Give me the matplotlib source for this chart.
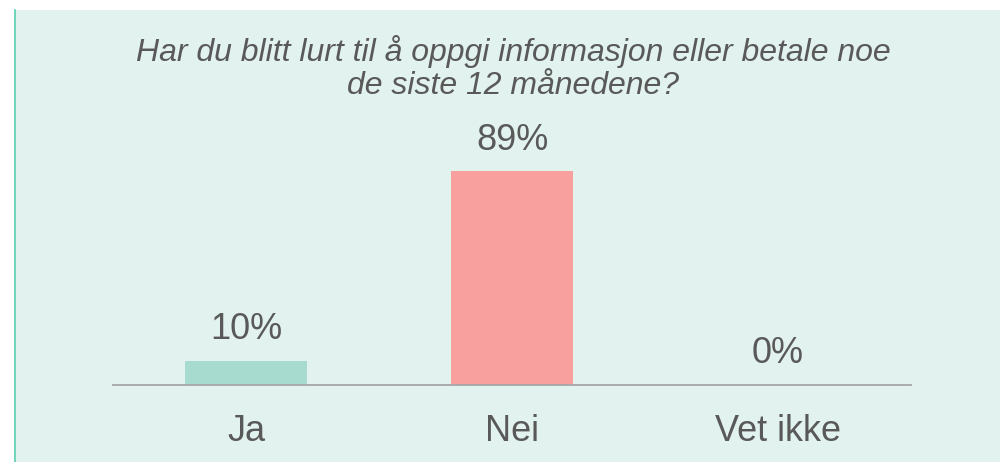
import matplotlib
matplotlib.use('Agg')
import matplotlib.pyplot as plt
from matplotlib.patches import Rectangle
from matplotlib.lines import Line2D

categories = ['Ja', 'Nei', 'Vet ikke']
values = [10, 89, 0]
labels = ['10%', '89%', '0%']
colors = ['#A8DBD0', '#F7A09E', '#A8DBD0']

title = 'Har du blitt lurt til å oppgi informasjon eller betale noe\nde siste 12 månedene?'

plt.rcParams['font.family'] = ['Liberation Sans', 'DejaVu Sans']
text_color = '#595959'

fig = plt.figure(figsize=(10, 4.62), dpi=100)
fig.patch.set_facecolor('white')

# panel background + left border
fig.patches.append(Rectangle((0.014, 0), 0.986, 452 / 462, transform=fig.transFigure,
                             facecolor='#E2F2EE', edgecolor='none', zorder=-5))
fig.lines.append(Line2D([0.0145, 0.0145], [0, 452 / 462], transform=fig.transFigure,
                        color='#5CD0B0', linewidth=1.2, zorder=-4))

ax = fig.add_axes([0.113, (462 - 385) / 462, 0.798, 240 / 462])
ax.set_facecolor('none')

x = range(len(categories))
bars = ax.bar(x, values, width=0.46, color=colors, zorder=2)
ax.set_xlim(-0.5, 2.5)
ax.set_ylim(0, 100)

for b, lab in zip(bars, labels):
    ax.annotate(lab, (b.get_x() + b.get_width() / 2, b.get_height()),
                xytext=(0, 10), textcoords='offset points',
                ha='center', va='bottom', fontsize=26, color=text_color)

for s in ['top', 'right', 'left']:
    ax.spines[s].set_visible(False)
ax.spines['bottom'].set_color('#A6A6A6')
ax.spines['bottom'].set_linewidth(1.3)
ax.set_yticks([])
ax.set_xticks(list(x))
ax.set_xticklabels(categories, fontsize=26, color=text_color)
ax.tick_params(axis='x', length=0, pad=21)

fig.text(0.513, 0.925, title, ha='center', va='top', fontsize=23,
         style='italic', color=text_color, linespacing=1.15)

fig.savefig('out.png', dpi=100)
